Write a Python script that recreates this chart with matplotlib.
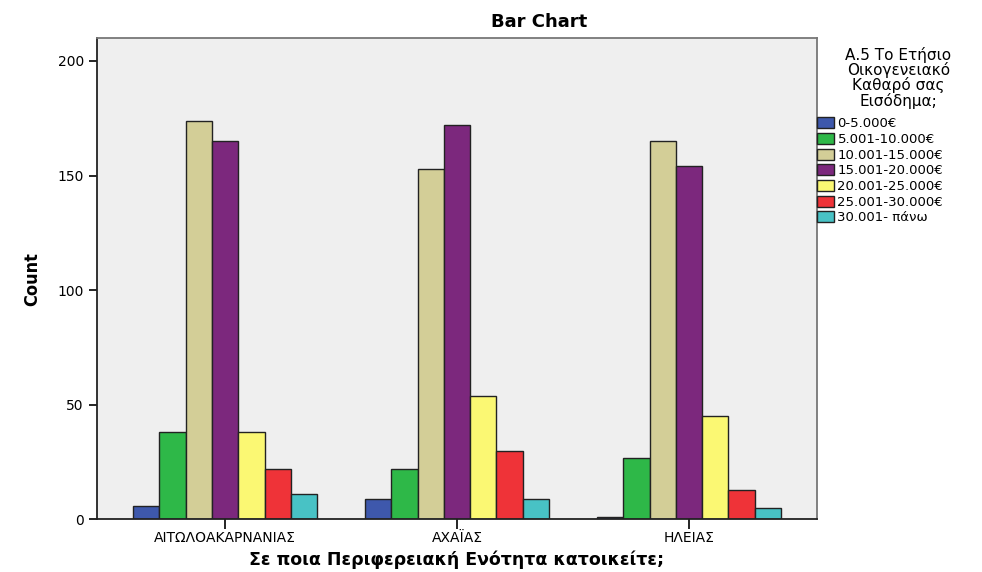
import numpy as np
import matplotlib
matplotlib.use("Agg")
import matplotlib.pyplot as plt
from matplotlib.patches import Patch

regions = ["ΑΙΤΩΛΟΑΚΑΡΝΑΝΙΑΣ", "ΑΧΑΪΑΣ", "ΗΛΕΙΑΣ"]
income = ["0-5.000€", "5.001-10.000€", "10.001-15.000€", "15.001-20.000€",
          "20.001-25.000€", "25.001-30.000€", "30.001- πάνω"]
counts = [
    [6, 9, 1],       # 0-5.000
    [38, 22, 27],    # 5.001-10.000
    [174, 153, 165], # 10.001-15.000
    [165, 172, 154], # 15.001-20.000
    [38, 54, 45],    # 20.001-25.000
    [22, 30, 13],    # 25.001-30.000
    [11, 9, 5],      # 30.001- πάνω
]
colors = ["#3E58AC", "#2EB848", "#D3CE97", "#7C287D",
          "#FBF873", "#EF3338", "#48C2C5"]

plt.rcParams['font.family'] = ['DejaVu Sans']

fig = plt.figure(figsize=(9.82, 5.72), dpi=100)
ax = fig.add_axes([0.0988, 0.0918, 0.7332, 0.8418])
ax.set_facecolor("#EFEFEF")

x = np.arange(len(regions))
w = 0.1134
for i, (vals, c) in enumerate(zip(counts, colors)):
    ax.bar(x + (i - 3) * w, vals, w, color=c, edgecolor="#222222", linewidth=1.0)

ax.set_xlim(-0.552, 2.552)
ax.set_ylim(0, 210)
ax.set_yticks([0, 50, 100, 150, 200])
ax.set_xticks(x)
ax.set_xticklabels(regions, fontsize=10)
ax.tick_params(axis='y', labelsize=10, length=6, width=1.2, direction='out')
ax.tick_params(axis='x', length=7, width=1.2, direction='out', pad=1)
for s in ["left", "bottom"]:
    ax.spines[s].set_linewidth(1.3)
    ax.spines[s].set_color("#222222")
for s in ["top", "right"]:
    ax.spines[s].set_linewidth(1.3)
    ax.spines[s].set_color("#777777")

ax.set_ylabel("Count", fontsize=13, fontweight="bold", fontstretch="condensed",
              family=['DejaVu Sans Condensed', 'Liberation Sans Narrow', 'DejaVu Sans'],
              labelpad=12)
ax.set_xlabel("Σε ποια Περιφερειακή Ενότητα κατοικείτε;", fontsize=12.5,
              fontweight="bold", labelpad=4)
fig.text(0.549, 0.962, "Bar Chart", ha="center", va="center",
         fontsize=13, fontweight="bold")

fig.text(0.915, 0.864, "Α.5 Το Ετήσιο\nΟικογενειακό\nΚαθαρό σας\nΕισόδημα;",
         ha="center", va="center", fontsize=11, linespacing=0.95)
handles = [Patch(facecolor=c, edgecolor="#222222", linewidth=1.0) for c in colors]
fig.legend(handles, income, loc="upper left", bbox_to_anchor=(0.832, 0.795),
           frameon=False, fontsize=9.5, handlelength=1.3, handleheight=0.9,
           handletextpad=0.25, labelspacing=0.2, borderaxespad=0, borderpad=0)

fig.savefig("out.png", dpi=100)
